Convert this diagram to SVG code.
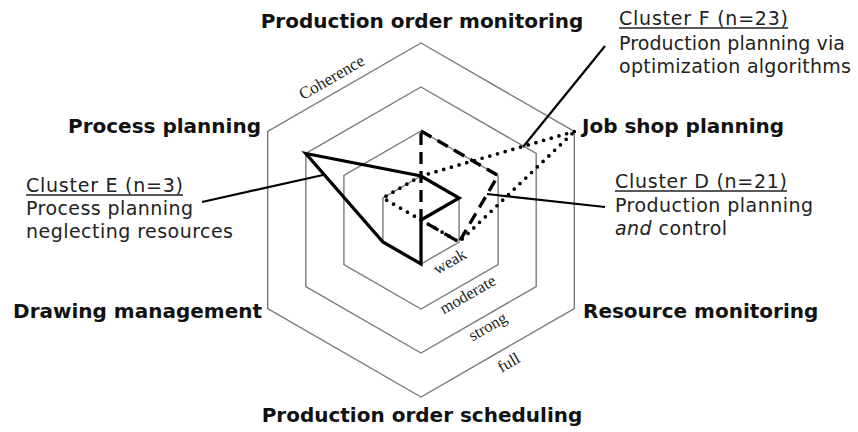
<svg xmlns="http://www.w3.org/2000/svg" width="858" height="432" viewBox="0 0 858 432">
<style>
.hex{fill:none;stroke:#7a7a7a;stroke-width:1.4}
.axis{font-family:"DejaVu Sans","Verdana",sans-serif;font-weight:bold;font-size:20px;fill:#111}
.lvl{font-family:"Liberation Serif","Times New Roman",serif;font-size:16.5px;fill:#222}
.cl{font-family:"DejaVu Sans","Verdana",sans-serif;font-size:19px;fill:#222}
.ul{stroke:#222;stroke-width:1.3}
.solid{fill:none;stroke:#000;stroke-width:3.3;stroke-linejoin:miter}
.dash{fill:none;stroke:#000;stroke-width:3.3;stroke-dasharray:12 7}
.dot{fill:none;stroke:#000;stroke-width:3.7;stroke-dasharray:0 8;stroke-linecap:round}
.lead{fill:none;stroke:#000;stroke-width:2.2}
</style>
<rect width="858" height="432" fill="#fff"/>
<g id="grid">
<polygon class="hex" points="421,43 574.3,131.5 574.3,308.5 421,397 267.7,308.5 267.7,131.5"/>
<polygon class="hex" points="421,87 536.2,153.5 536.2,286.5 421,353 305.8,286.5 305.8,153.5"/>
<polygon class="hex" points="421,131 498.1,175.5 498.1,264.5 421,309 343.9,264.5 343.9,175.5"/>
<polygon class="hex" points="421,176 459.1,198 459.1,242 421,264 382.9,242 382.9,198"/>
</g>
<g id="levels">
<text class="lvl" text-anchor="middle" transform="translate(334.4,82.2) rotate(-30)" style="font-size:17px">Coherence</text>
<text class="lvl" text-anchor="middle" transform="translate(452.4,266.2) rotate(-30)">weak</text>
<text class="lvl" text-anchor="middle" transform="translate(470.4,299.2) rotate(-30)">moderate</text>
<text class="lvl" text-anchor="middle" transform="translate(490.4,331.2) rotate(-30)">strong</text>
<text class="lvl" text-anchor="middle" transform="translate(511.4,367.2) rotate(-30)">full</text>
</g>
<g id="axis-labels">
<text id="pom" class="axis" x="422" y="28" text-anchor="middle">Production order monitoring</text>
<text id="pp" class="axis" x="261" y="133" text-anchor="end">Process planning</text>
<text id="jsp" class="axis" x="582" y="133">Job shop planning</text>
<text id="dm" class="axis" x="262" y="318" text-anchor="end">Drawing management</text>
<text id="rm" class="axis" x="583" y="318">Resource monitoring</text>
<text id="pos" class="axis" x="422" y="422" text-anchor="middle">Production order scheduling</text>
</g>
<g id="connectors">
<polygon id="clusterF-line" class="dot" points="574.3,131.5 421,176 382.9,198 421,220 459.1,242"/>
<polygon id="clusterD-line" class="dash" points="421,131 498.1,175.5 459.1,242 421,220"/>
<polygon id="clusterE-line" class="solid" points="305.8,153.5 421,176 459.1,198 421,220 421,264 382.9,242"/>
<line class="lead" x1="605" y1="46" x2="523" y2="147"/>
<line class="lead" x1="202" y1="202" x2="323" y2="175"/>
<line class="lead" x1="605" y1="207" x2="487" y2="194"/>
</g>
<g id="clusterF">
<text class="cl" x="619" y="25" textLength="169">Cluster F (n=23)</text>
<line class="ul" x1="619" y1="28" x2="788" y2="28"/>
<text class="cl" x="619" y="50" textLength="226">Production planning via</text>
<text class="cl" x="619" y="73" textLength="232">optimization algorithms</text>
</g>
<g id="clusterE">
<text class="cl" x="26" y="192" textLength="157">Cluster E (n=3)</text>
<line class="ul" x1="26" y1="195" x2="183" y2="195"/>
<text class="cl" x="26" y="215" textLength="167">Process planning</text>
<text class="cl" x="26" y="238" textLength="207">neglecting resources</text>
</g>
<g id="clusterD">
<text class="cl" x="615" y="188" textLength="172">Cluster D (n=21)</text>
<line class="ul" x1="615" y1="191" x2="787" y2="191"/>
<text class="cl" x="615" y="212" textLength="198">Production planning</text>
<text class="cl" x="615" y="235" textLength="112"><tspan font-style="italic">and</tspan> control</text>
</g>
</svg>
